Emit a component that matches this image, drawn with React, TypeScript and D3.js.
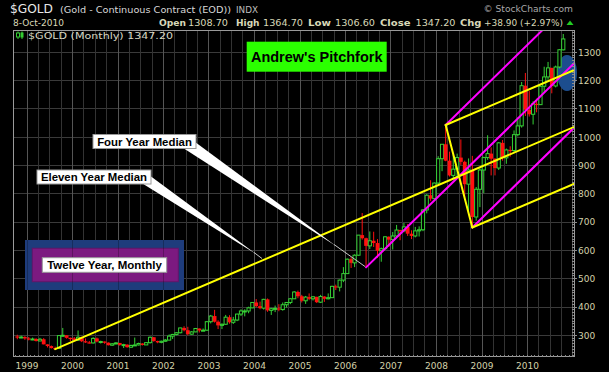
import React from 'react';
import * as d3 from 'd3';

// ---- data (monthly, starting Oct 1998) ----
const firstMonth = '1998-10';
const opens = [
  296, 292, 294,
  289, 287, 287, 280, 286, 268, 262, 255, 254, 299, 300, 291,
  289, 283, 293, 279, 275, 273, 289, 278, 278, 274, 265, 270,
  273, 266, 267, 258, 264, 266, 271, 266, 274, 293, 280, 275,
  279, 283, 297, 303, 309, 326, 318, 304, 312, 324, 317, 318,
  348, 368, 348, 335, 339, 364, 346, 354, 375, 386, 386, 397,
  416, 403, 396, 427, 388, 394, 395, 391, 408, 416, 429, 453,
  438, 422, 435, 429, 436, 417, 437, 429, 433, 473, 470, 495,
  518, 569, 556, 583, 654, 643, 616, 634, 626, 599, 606, 648,
  638, 651, 672, 669, 683, 659, 651, 669, 673, 743, 795, 783,
  838, 924, 975, 917, 865, 887, 928, 913, 834, 884, 718, 816,
  884, 928, 942, 924, 891, 980, 927, 955, 953, 1009, 1040, 1182,
  1097, 1081, 1118, 1115, 1180, 1213, 1245, 1181, 1248, 1308.7,
];
const highs = [
  302, 299, 297,
  294, 292, 290, 291, 290, 268, 264, 260, 300, 326, 300, 292,
  294, 317, 295, 289, 280, 293, 292, 281, 278, 275, 272, 276,
  273, 270, 268, 267, 292, 274, 272, 276, 296, 294, 281, 281,
  287, 303, 305, 311, 327, 332, 330, 315, 326, 324, 324, 350,
  372, 390, 353, 342, 372, 371, 365, 376, 392, 392, 401, 417,
  428, 419, 429, 430, 397, 405, 410, 416, 417, 432, 456, 458,
  443, 439, 448, 439, 436, 443, 438, 448, 475, 479, 497, 541,
  571, 576, 586, 654, 732, 645, 667, 666, 640, 610, 650, 650,
  665, 690, 673, 697, 693, 671, 683, 685, 746, 799, 848, 840,
  933, 976, 1043, 949, 939, 942, 992, 917, 925, 934, 824, 890,
  931, 1007, 964, 926, 983, 990, 960, 968, 1024, 1070, 1195, 1227,
  1163, 1127, 1136, 1182, 1249, 1266, 1245, 1253, 1311, 1364.7,
];
const lows = [
  286, 290, 284,
  282, 283, 278, 279, 268, 257, 253, 251, 253, 296, 288, 279,
  281, 280, 276, 273, 271, 271, 275, 271, 270, 264, 263, 268,
  263, 255, 256, 255, 264, 264, 264, 266, 271, 277, 272, 272,
  277, 283, 287, 300, 307, 314, 300, 302, 311, 310, 315, 317,
  342, 345, 322, 322, 337, 341, 340, 350, 368, 367, 378, 396,
  399, 392, 391, 383, 372, 382, 385, 387, 398, 410, 428, 431,
  416, 411, 424, 423, 414, 414, 418, 427, 433, 460, 455, 488,
  518, 538, 541, 582, 638, 540, 605, 612, 573, 560, 605, 612,
  603, 645, 636, 664, 651, 640, 646, 649, 668, 731, 775, 780,
  834, 880, 915, 861, 851, 860, 902, 786, 740, 681, 705, 753,
  802, 920, 865, 865, 884, 917, 906, 931, 945, 1003, 1034, 1075,
  1073, 1045, 1088, 1114, 1159, 1203, 1155, 1176, 1243, 1306.6,
];
const closes = [
  292, 294, 289,
  287, 287, 280, 286, 268, 262, 255, 254, 299, 300, 291, 289,
  283, 293, 279, 275, 273, 289, 278, 278, 274, 265, 270, 273,
  266, 267, 258, 264, 266, 271, 266, 274, 293, 280, 275, 279,
  283, 297, 303, 309, 326, 318, 304, 312, 324, 317, 318, 348,
  368, 348, 335, 339, 364, 346, 354, 375, 386, 386, 397, 416,
  403, 396, 427, 388, 394, 395, 391, 408, 416, 429, 453, 438,
  422, 435, 429, 436, 417, 437, 429, 433, 473, 470, 495, 518,
  569, 556, 583, 654, 643, 616, 634, 626, 599, 606, 648, 638,
  651, 672, 669, 683, 659, 651, 669, 673, 743, 795, 783, 838,
  924, 975, 917, 865, 887, 928, 913, 834, 884, 718, 816, 884,
  928, 942, 924, 891, 980, 927, 955, 953, 1009, 1040, 1182, 1097,
  1081, 1118, 1115, 1180, 1213, 1245, 1181, 1248, 1309, 1347.2,
];
const yTickValues = [300, 400, 500, 600, 700, 800, 900, 1000, 1100, 1200, 1300];
const yearLabels = ['1999', '2000', '2001', '2002', '2003', '2004', '2005', '2006', '2007', '2008', '2009', '2010'];
// pitchfork pivots: a = low, b = high, c = low
const yellowPivots = { a: '1999-08', b: '2008-03', c: '2008-10' };
const magentaPivots = { a: '2006-06', b: '2008-03', c: '2008-10' };

const W = 609, H = 372;
const PL = 13, PR = 574, PT = 30, PB = 356.5;
const FONT = "'DejaVu Sans', Verdana, sans-serif";
const BOLD = "'Liberation Sans', Arial, sans-serif";

export default function App() {
  const parse = d3.timeParse('%Y-%m');
  const fmt = d3.timeFormat('%Y-%m');
  const start = parse(firstMonth) as Date;
  const months = opens.map((_, i) => d3.timeMonth.offset(start, i));
  const x = d3.scaleTime().domain([new Date(1999, 0, 1), new Date(2010, 0, 1)]).range([27, 527.5]);
  const y = d3.scaleLinear().domain([300, 1300]).range([335.3, 52.3]);
  const cx = (d: Date) => x(d3.timeDay.offset(d, 14));
  const idx = (s: string) => months.findIndex((m) => fmt(m) === s);

  const grid = d3.timeMonth.every(3)!.range(new Date(1999, 0, 1), new Date(2011, 2, 1)).filter((d) => x(d) > PL + 2 && x(d) < PR - 1);
  const monthTicks = d3.timeMonth.range(new Date(1998, 9, 1), new Date(2011, 2, 1)).filter((d) => x(d) > PL && x(d) < PR);
  const minorY = d3.range(230, 1380, 10);

  const fork = (p: { a: string; b: string; c: string }) => {
    const ia = idx(p.a), ib = idx(p.b), ic = idx(p.c);
    const A: [number, number] = [cx(months[ia]), y(lows[ia])];
    const B: [number, number] = [cx(months[ib]), y(highs[ib])];
    const C: [number, number] = [cx(months[ic]), y(lows[ic])];
    const M = [(B[0] + C[0]) / 2, (B[1] + C[1]) / 2];
    const dx = M[0] - A[0], dy = M[1] - A[1];
    const k = 3;
    const ext = (P: [number, number]) => [P, [P[0] + dx * k, P[1] + dy * k]] as [number, number][];
    return { A, B, C, lines: [ext(A), ext(B), ext(C)] };
  };
  const yf = fork(yellowPivots);
  const mf = fork(magentaPivots);
  const line = d3.line();

  const green = '#36d236';
  const red = '#ff1010';

  return (
    <svg width={W} height={H} style={{ position: 'absolute', left: 0, top: 0, background: '#000' }}>
      <defs>
        <clipPath id="plot">
          <rect x={PL} y={PT} width={PR - PL} height={PB - PT} />
        </clipPath>
      </defs>
      <rect x={0} y={0} width={W} height={H} fill="#000" />

      {/* header */}
      <text x={10} y={13} fontFamily={FONT} fontSize={12.5} fill="#e8e8e8" textLength={43} lengthAdjust="spacingAndGlyphs">$GOLD</text>
      <text x={60} y={12.5} fontFamily={FONT} fontSize={9.5} fill="#d8d8d8" textLength={171} lengthAdjust="spacingAndGlyphs">(Gold - Continuous Contract (EOD))</text>
      <text x={236} y={12.5} fontFamily={FONT} fontSize={9.5} fill="#bdbdbd" textLength={22} lengthAdjust="spacingAndGlyphs">INDX</text>
      <text x={483.5} y={12} fontFamily={FONT} fontSize={9.5} fill="#a8a8a8" textLength={89.5} lengthAdjust="spacingAndGlyphs">© StockCharts.com</text>

      <g fontFamily={FONT} fontSize={9} fill="#d8d8b8">
        <text x={13} y={25.5} textLength={51} lengthAdjust="spacingAndGlyphs">8-Oct-2010</text>
        <text x={159} y={25.5} fontWeight="bold" textLength={27} lengthAdjust="spacingAndGlyphs">Open</text>
        <text x={188} y={25.5} textLength={40} lengthAdjust="spacingAndGlyphs">1308.70</text>
        <text x={236} y={25.5} fontWeight="bold" textLength={23.5} lengthAdjust="spacingAndGlyphs">High</text>
        <text x={263} y={25.5} textLength={40} lengthAdjust="spacingAndGlyphs">1364.70</text>
        <text x={308} y={25.5} fontWeight="bold" textLength={23} lengthAdjust="spacingAndGlyphs">Low</text>
        <text x={335} y={25.5} textLength={40} lengthAdjust="spacingAndGlyphs">1306.60</text>
        <text x={380} y={25.5} fontWeight="bold" textLength={30.5} lengthAdjust="spacingAndGlyphs">Close</text>
        <text x={415.5} y={25.5} textLength={40} lengthAdjust="spacingAndGlyphs">1347.20</text>
        <text x={460} y={25.5} fontWeight="bold" textLength={21.5} lengthAdjust="spacingAndGlyphs">Chg</text>
        <text x={484} y={25.5} textLength={79} lengthAdjust="spacingAndGlyphs">+38.90 (+2.97%)</text>
      </g>
      <polygon points="566.5,25 573.5,25 570,20.5" fill="#22cc22" />

      {/* grid */}
      <g shapeRendering="crispEdges">
        {yTickValues.map((v) => (
          <line key={'h' + v} x1={PL} x2={PR} y1={y(v)} y2={y(v)} stroke="#3a3a3a" strokeWidth={1} />
        ))}
        {grid.map((d, i) => (
          <line key={'v' + i} x1={x(d)} x2={x(d)} y1={PT} y2={PB} stroke={d.getMonth() === 0 ? '#555' : '#333'} strokeWidth={1} />
        ))}
      </g>

      {/* Twelve Year box */}
      <rect x={25} y={240} width={159} height={50} fill="#1e3c7c" />
      <rect x={32.3} y={248.3} width={146} height={33.4} fill="#7c1a80" stroke="#64146a" strokeWidth={1} />
      <g shapeRendering="crispEdges">
        {grid.filter((d) => d.getMonth() === 0 && x(d) > 25 && x(d) < 184).map((d, i) => (
          <line key={'bx' + i} x1={x(d)} x2={x(d)} y1={240} y2={290} stroke="#000" strokeOpacity={0.25} />
        ))}
      </g>

      {/* ellipse highlight */}
      <ellipse cx={567} cy={73} rx={10} ry={18} fill="#1c4d8e" />

      {/* candles */}
      <g clipPath="url(#plot)">
        {months.map((m, i) => {
          const o = opens[i], c = closes[i];
          const up = c >= o;
          const col = up ? green : red;
          const px = cx(m);
          const top = y(Math.max(o, c));
          const bot = y(Math.min(o, c));
          return (
            <g key={'c' + i}>
              <line x1={px} x2={px} y1={y(highs[i])} y2={y(lows[i])} stroke={col} strokeWidth={1} />
              {up ? (
                <rect x={px - 1.6} y={top} width={3.2} height={Math.max(bot - top, 1)} fill="#000" stroke={col} strokeWidth={1} />
              ) : (
                <rect x={px - 1.9} y={top} width={3.8} height={Math.max(bot - top, 1.2)} fill={col} />
              )}
            </g>
          );
        })}
      </g>

      {/* pitchforks */}
      <g clipPath="url(#plot)" fill="none" strokeLinecap="round">
        {mf.lines.map((l, i) => (
          <path key={'m' + i} d={line(l) as string} stroke="#ff00ff" strokeWidth={2} />
        ))}
        {yf.lines.map((l, i) => (
          <path key={'y' + i} d={line(l) as string} stroke="#ffff00" strokeWidth={2} />
        ))}
        <path d={line([yf.B, yf.C]) as string} stroke="#ffff00" strokeWidth={2} />
      </g>

      {/* axes frame */}
      <rect x={PL} y={PT} width={PR - PL} height={PB - PT} fill="none" stroke="#9a9a9a" strokeWidth={1} shapeRendering="crispEdges" />
      <g shapeRendering="crispEdges" stroke="#8a8a8a">
        {minorY.filter((v) => y(v) > PT && y(v) < PB).map((v) => (
          <line key={'ry' + v} x1={PR - 2} x2={PR} y1={y(v)} y2={y(v)} />
        ))}
        {yTickValues.map((v) => (
          <line key={'rt' + v} x1={PR} x2={PR + 3} y1={y(v)} y2={y(v)} />
        ))}
        {monthTicks.map((d, i) => (
          <line key={'bt' + i} x1={x(d)} x2={x(d)} y1={PB - 2} y2={PB} />
        ))}
      </g>
      <g fontFamily={FONT} fontSize={9} fill="#d4d2aa">
        {yTickValues.map((v) => (
          <text key={'yl' + v} x={578} y={y(v) + 3.3}>{v}</text>
        ))}
        {yearLabels.map((s) => (
          <text key={'xl' + s} x={x(new Date(+s, 0, 1))} y={368.5} textAnchor="middle">{s}</text>
        ))}
      </g>

      {/* legend */}
      <g>
        <line x1={18} x2={18} y1={31.5} y2={39} stroke="#33cc33" />
        <rect x={16.5} y={33} width={3} height={4} fill="#000" stroke="#33cc33" />
        <line x1={22} x2={22} y1={31.5} y2={39} stroke="#33cc33" />
        <rect x={20.5} y={32.5} width={3} height={5} fill="#33cc33" />
        <text x={28} y={38.5} fontFamily={FONT} fontSize={9.5} fill="#d8d8c4" textLength={145} lengthAdjust="spacingAndGlyphs">$GOLD (Monthly) 1347.20</text>
      </g>

      {/* arrows */}
      <polygon points="180,146 191,139 336,246" fill="#fff" />
      <line x1={334} y1={244.5} x2={365} y2={266.5} stroke="#c8c8c8" strokeWidth={1} />
      <polygon points="140,182 149,175 256,254" fill="#fff" />
      <line x1={254} y1={252.5} x2={262} y2={258.5} stroke="#c8c8c8" strokeWidth={1} />

      {/* labels */}
      <rect x={246.7} y={41.7} width={140} height={30} fill="#2bff00" />
      <text x={316.7} y={62} textAnchor="middle" fontFamily={BOLD} fontWeight="bold" fontSize={14.5} fill="#000">Andrew's Pitchfork</text>

      <rect x={93} y={134.5} width={103} height={14} fill="#fff" stroke="#999" />
      <text x={144.5} y={145.5} textAnchor="middle" fontFamily={BOLD} fontWeight="bold" fontSize={11.4} fill="#000">Four Year Median</text>

      <rect x={37} y={170} width={114} height={14} fill="#fff" stroke="#999" />
      <text x={94} y={181} textAnchor="middle" fontFamily={BOLD} fontWeight="bold" fontSize={11.4} fill="#000">Eleven Year Median</text>

      <rect x={42.3} y={257.7} width={124.4} height={14.6} fill="#fff" stroke="#999" />
      <text x={104.5} y={269} textAnchor="middle" fontFamily={BOLD} fontWeight="bold" fontSize={11.5} fill="#000">Twelve Year, Monthly</text>
    </svg>
  );
}
